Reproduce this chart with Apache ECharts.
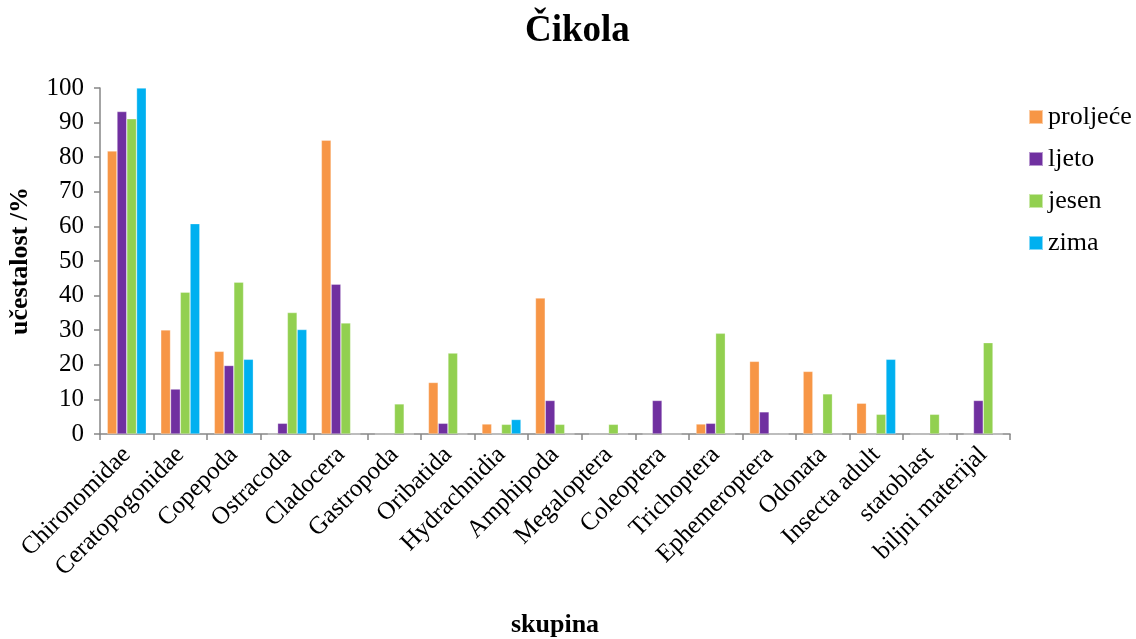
<!DOCTYPE html>
<html><head><meta charset="utf-8">
<script src="https://cdn.jsdelivr.net/npm/echarts@6/dist/echarts.min.js"></script>
<style>html,body{margin:0;padding:0;background:#fff}#c{width:1136px;height:639px}</style>
</head><body><div id="c"></div>
<script>
const categories = ["Chironomidae","Ceratopogonidae","Copepoda","Ostracoda","Cladocera","Gastropoda","Oribatida","Hydrachnidia","Amphipoda","Megaloptera","Coleoptera","Trichoptera","Ephemeroptera","Odonata","Insecta adult","statoblast","biljni materijal"];
const proljece = [81.8,30.1,23.9,0,84.9,0,14.9,2.9,39.3,0,0,2.9,21.0,18.1,8.9,0,0];
const ljeto    = [93.2,13.0,19.8,3.1,43.3,0,3.1,0,9.7,0,9.7,3.1,6.4,0,0,0,9.7];
const jesen    = [91.1,41.0,43.9,35.1,32.1,8.7,23.4,2.8,2.8,2.8,0,29.1,0,11.6,5.7,5.7,26.4];
const zima     = [100,60.8,21.6,30.2,0,0,0,4.2,0,0,0,0,0,0,21.6,0,0];
const yTicks = [0,10,20,30,40,50,60,70,80,90,100];

const font = '"Liberation Serif","Times New Roman",serif';
const chart = echarts.init(document.getElementById('c'));
function s(name, data, color){
  return {name, type:'bar', data, barGap:'0%', barCategoryGap:'27%',
    itemStyle:{color, borderColor:'rgba(255,255,255,0.5)', borderWidth:0.6}};
}
chart.setOption({
  animation:false,
  textStyle:{fontFamily:font},
  title:{text:'Čikola', left:520, top:8,
    textStyle:{fontFamily:font, fontSize:37, fontWeight:'bold', color:'#000'}},
  legend:{orient:'vertical', left:1023, top:99, itemWidth:14, itemHeight:14, itemGap:16,
    icon:'rect', textStyle:{fontFamily:font, fontSize:26, color:'#000'},
    data:['proljeće','ljeto','jesen','zima']},
  grid:{left:100, right:126, top:88, bottom:205, containLabel:false, outerBoundsMode:'none'},
  xAxis:{type:'category', data:categories,
    name:'skupina', nameLocation:'middle', nameGap:178,
    nameTextStyle:{fontFamily:font, fontSize:26, fontWeight:'bold', color:'#000'},
    axisLine:{lineStyle:{color:'#868686', width:1.5}},
    axisTick:{show:true, alignWithLabel:false, length:6, lineStyle:{color:'#868686', width:1.5}},
    axisLabel:{rotate:45, margin:17, interval:0, fontFamily:font, fontSize:25, color:'#000'}},
  yAxis:{type:'value', min:0, max:100, interval:10,
    name:'učestalost /%', nameLocation:'middle', nameGap:67,
    nameTextStyle:{fontFamily:font, fontSize:26, fontWeight:'bold', color:'#000'},
    axisLine:{show:true, lineStyle:{color:'#868686', width:1.5}},
    axisTick:{show:true, length:6, lineStyle:{color:'#868686', width:1.5}},
    splitLine:{show:false},
    axisLabel:{margin:16, fontFamily:font, fontSize:25, color:'#000',
      formatter: v => yTicks.includes(v) ? String(v) : ''}},
  series:[
    s('proljeće', proljece, '#F79646'),
    s('ljeto', ljeto, '#7030A0'),
    s('jesen', jesen, '#92D050'),
    s('zima', zima, '#00B0F0')
  ]
});
</script></body></html>
